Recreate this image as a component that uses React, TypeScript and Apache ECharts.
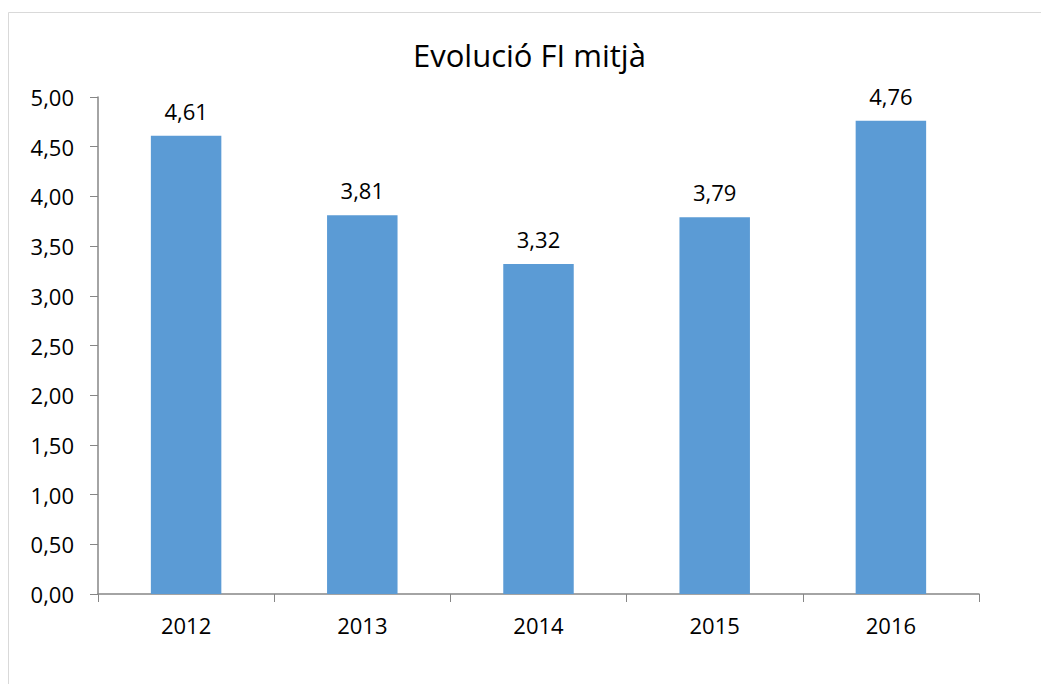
import React, { useEffect, useRef } from "react";
import * as echarts from "echarts";

const title = "Evolució FI mitjà";
const categories = ["2012", "2013", "2014", "2015", "2016"];
const values = [4.61, 3.81, 3.32, 3.79, 4.76];
const yMin = 0;
const yMax = 5;
const yInterval = 0.5;

const fmt = (v: number) => v.toFixed(2).replace(".", ",");
const FONT = "Open Sans";

export default function App() {
  const ref = useRef<HTMLDivElement>(null);
  useEffect(() => {
    if (!ref.current) return;
    const chart = echarts.init(ref.current, undefined, { renderer: "svg" });
    chart.setOption({
      animation: false,
      backgroundColor: "#ffffff",
      title: {
        text: title,
        left: 413,
        top: 39,
        padding: 0,
        textStyle: { fontFamily: FONT, fontSize: 31, fontWeight: "normal", color: "#000000" },
      },
      graphic: [
        { type: "line", shape: { x1: 8.5, y1: 12.5, x2: 1041, y2: 12.5 }, style: { stroke: "#d9d9d9", lineWidth: 1 } },
        { type: "line", shape: { x1: 8.5, y1: 12.5, x2: 8.5, y2: 684 }, style: { stroke: "#d9d9d9", lineWidth: 1 } },
      ],
      grid: { left: 98, right: 62, top: 97, bottom: 90 },
      xAxis: {
        type: "category",
        data: categories,
        axisLine: { lineStyle: { color: "#868686", width: 1.5 } },
        axisTick: { show: true, length: 8, alignWithLabel: false, lineStyle: { color: "#868686" } },
        axisLabel: { margin: 20, fontFamily: FONT, fontSize: 22, color: "#000000" },
        splitLine: { show: false },
      },
      yAxis: {
        type: "value",
        min: yMin,
        max: yMax,
        interval: yInterval,
        axisLine: { show: true, lineStyle: { color: "#868686", width: 1.5 } },
        axisTick: { show: true, length: 8, lineStyle: { color: "#868686" } },
        axisLabel: { margin: 24, fontFamily: FONT, fontSize: 22, color: "#000000", formatter: (v: number) => fmt(v) },
        splitLine: { show: false },
      },
      series: [
        {
          type: "bar",
          data: values,
          barWidth: "40%",
          itemStyle: { color: "#5b9bd5" },
          label: {
            show: true,
            position: "top",
            distance: 14,
            fontFamily: FONT,
            fontSize: 22,
            color: "#000000",
            formatter: (p: any) => fmt(p.value),
          },
        },
      ],
    });
    return () => chart.dispose();
  }, []);
  return (
    <div
      ref={ref}
      style={{ position: "absolute", left: 0, top: 0, width: 1041, height: 684 }}
    />
  );
}
